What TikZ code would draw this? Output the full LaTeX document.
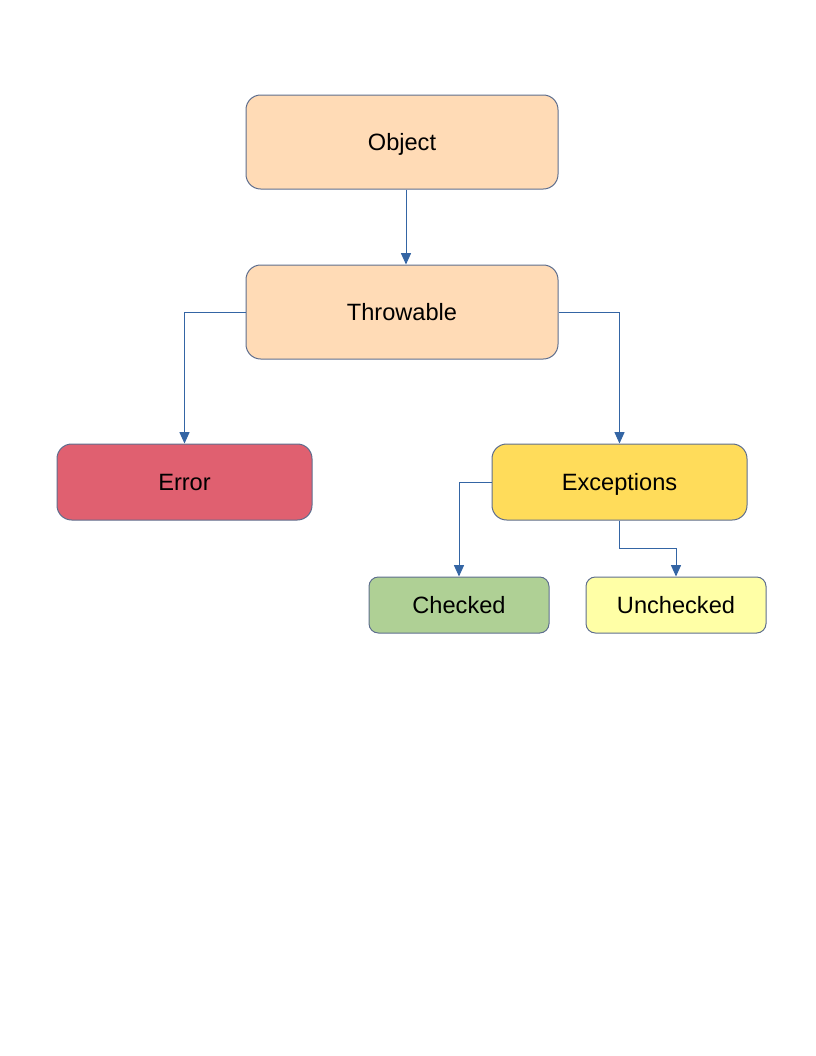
\documentclass[tikz,border=0pt]{standalone}
\usepackage{fontspec}
\setmainfont{Liberation Sans}
\usetikzlibrary{arrows.meta}
\definecolor{peach}{HTML}{FFDBB6}
\definecolor{errred}{HTML}{E06070}
\definecolor{excyel}{HTML}{FFDC5A}
\definecolor{chkgreen}{HTML}{AFD095}
\definecolor{unchyel}{HTML}{FFFFA6}
\definecolor{boxline}{HTML}{5E6E8E}
\definecolor{arrline}{HTML}{3465A4}
\begin{document}
\begin{tikzpicture}[x=0.75pt,y=-0.75pt,
  box/.style={draw=boxline,line width=0.75pt,rounded corners=11pt,font=\fontsize{17.7}{20}\selectfont,inner sep=0pt,text height=12.7pt,text depth=0pt},
  bigbox/.style={box,minimum width=234pt,minimum height=70.5pt},
  midbox/.style={box,minimum width=191.25pt,minimum height=57pt},
  smallbox/.style={box,rounded corners=7pt,minimum width=135pt,minimum height=42pt},
  conn/.style={draw=arrline,line width=0.75pt,-{Triangle[width=7.5pt,length=8.5pt]}}]
\useasboundingbox (0,0) rectangle (816,1056);
\node[bigbox,fill=peach] (o) at (402,142) {Object};
\node[bigbox,fill=peach] (t) at (402,312) {Throwable};
\node[midbox,fill=errred] (er) at (184.5,482) {Error};
\node[midbox,fill=excyel] (ex) at (619.5,482) {Exceptions};
\node[smallbox,fill=chkgreen] (c) at (459,605) {Checked};
\node[smallbox,fill=unchyel] (u) at (676,605) {Unchecked};
\draw[conn] ([xshift=3pt]o.south) -- ([xshift=3pt]t.north);
\draw[conn] (t.west) -| (er.north);
\draw[conn] (t.east) -| (ex.north);
\draw[conn] (ex.west) -| (c.north);
\coordinate (k) at (619.5,548);
\draw[conn] (ex.south) -- (k) -| (u.north);
\end{tikzpicture}
\end{document}
